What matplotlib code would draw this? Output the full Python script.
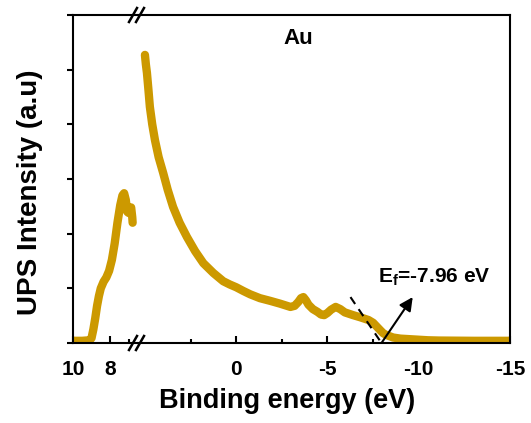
import matplotlib
matplotlib.use('Agg')
import matplotlib.pyplot as plt
from matplotlib.ticker import MultipleLocator, FixedLocator

plt.rcParams['font.family'] = ['Liberation Sans', 'DejaVu Sans']
plt.rcParams['font.weight'] = 'bold'
plt.rcParams['axes.unicode_minus'] = False
plt.rcParams['mathtext.fontset'] = 'custom'
plt.rcParams['mathtext.rm'] = 'Liberation Sans:bold'
plt.rcParams['mathtext.bf'] = 'Liberation Sans:bold'
plt.rcParams['mathtext.it'] = 'Liberation Sans:bold'

# spectre UPS do Au (energia de ligacao em eV, intensidade em u.a.)
# parte alta (cutoff), lado esquerdo da quebra
energia_alta = [10.0, 9.5, 9.1, 9.0, 8.9, 8.8, 8.7, 8.6, 8.5, 8.35, 8.2, 8.05, 7.9,
                7.75, 7.6, 7.45, 7.33, 7.24, 7.15, 7.07, 7.0, 6.92, 6.86, 6.8, 6.78]
intens_alta = [0.04, 0.04, 0.05, 0.09, 0.25, 0.45, 0.68, 0.86, 1.0, 1.12, 1.2, 1.32, 1.52,
               1.82, 2.2, 2.52, 2.70, 2.74, 2.62, 2.40, 2.38, 2.47, 2.48, 2.30, 2.20]

# parte baixa, lado direito da quebra
energia_baixa = [5.00, 4.95, 4.89, 4.80, 4.73, 4.60, 4.45, 4.25, 4.00, 3.75, 3.46, 3.10,
                 2.70, 2.25, 1.80, 1.25, 0.71, 0.35, 0.0, -0.4, -0.77, -1.3, -1.87, -2.4,
                 -2.97, -3.2, -3.4, -3.55, -3.68, -3.82, -3.96, -4.2, -4.45, -4.65, -4.82,
                 -5.0, -5.2, -5.45, -5.7, -5.95, -6.4, -6.8, -7.25, -7.5, -7.7, -7.9,
                 -8.05, -8.2, -8.6, -9.0, -9.5, -10.5, -11.1, -13.0, -15.0]
intens_baixa = [5.27, 5.10, 4.94, 4.60, 4.32, 4.00, 3.71, 3.40, 3.11, 2.80, 2.49, 2.20,
                1.94, 1.68, 1.46, 1.28, 1.13, 1.07, 1.02, 0.95, 0.89, 0.82, 0.77, 0.72,
                0.66, 0.68, 0.75, 0.82, 0.84, 0.78, 0.70, 0.62, 0.57, 0.52, 0.51,
                0.55, 0.61, 0.66, 0.62, 0.56, 0.51, 0.47, 0.42, 0.37, 0.30, 0.23,
                0.18, 0.15, 0.10, 0.08, 0.07, 0.05, 0.045, 0.04, 0.04]

# tangente (tracejada) e nivel de Fermi
tangente_x = [-6.26, -7.96]
tangente_y = [0.84, 0.0]
ef = -7.96
seta_fim = (-9.67, 0.84)
texto_ef = r'E$_\mathregular{f}$=-7.96 eV'

cor = '#CC9900'

fig = plt.figure(figsize=(5.31, 4.23), dpi=100)
ax1 = fig.add_axes([73/531, 1-343/423, 65/531, 328/423])
ax2 = fig.add_axes([138/531, 1-343/423, 372/531, 328/423])

for ax in (ax1, ax2):
    for s in ax.spines.values():
        s.set_linewidth(1.5)
    ax.set_ylim(0, 6)
    ax.tick_params(axis='x', which='major', direction='in', length=5, width=1.5,
                   labelsize=15, pad=12)
    ax.tick_params(axis='x', which='minor', direction='in', length=3, width=1.5)

ax1.plot(energia_alta, intens_alta, color=cor, lw=6, solid_capstyle='round',
         solid_joinstyle='round')
ax1.set_xlim(10, 6.49)
ax1.xaxis.set_major_locator(FixedLocator([10, 8]))
ax1.xaxis.set_minor_locator(FixedLocator([9, 7]))
ax1.spines['right'].set_visible(False)
ax1.yaxis.set_major_locator(MultipleLocator(1))
ax1.tick_params(axis='y', direction='out', length=4, width=1.5, labelleft=False)

ax2.plot(energia_baixa, intens_baixa, color=cor, lw=6, solid_capstyle='round',
         solid_joinstyle='round')
ax2.set_xlim(5.38, -15)
ax2.xaxis.set_major_locator(FixedLocator([0, -5, -10, -15]))
ax2.xaxis.set_minor_locator(FixedLocator([2.5, -2.5, -7.5, -12.5]))
ax2.spines['left'].set_visible(False)
ax2.set_yticks([])

ax2.plot(tangente_x, tangente_y, color='black', lw=1.5, dashes=(4, 3))
ax2.annotate('', xy=seta_fim, xytext=(ef, 0),
             arrowprops=dict(arrowstyle='-|>', color='black', lw=1.5,
                             mutation_scale=20, shrinkA=0, shrinkB=0))
ax2.text(-7.75, 1.10, texto_ef, fontsize=15, fontweight='bold', va='baseline')

# marcas de quebra //
for yb in (0, 1):
    for dx in (-5, 2):
        ax2.plot([dx/372 - 4/372, dx/372 + 4/372],
                 [yb - 7/328, yb + 7/328], transform=ax2.transAxes,
                 color='black', lw=1.8, clip_on=False)

fig.text(298/531, 1-38/423, 'Au', fontsize=16, fontweight='bold', ha='center', va='center')
fig.text(287/531, 1-408/423, 'Binding energy (eV)', fontsize=19.5, fontweight='bold',
         ha='center', va='baseline')
fig.text(30/531, 1-192/423, 'UPS Intensity (a.u)', fontsize=20, fontweight='bold',
         rotation=90, ha='center', va='center')

plt.savefig('out.png', dpi=100)
